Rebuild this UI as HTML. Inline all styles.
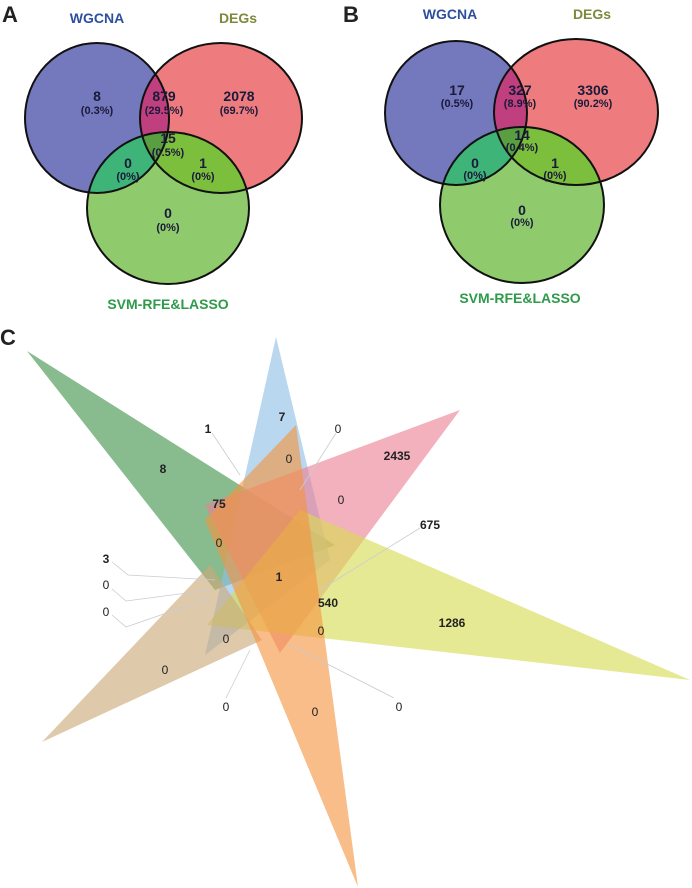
<!DOCTYPE html>
<html><head><meta charset="utf-8"><style>
html,body{margin:0;padding:0;background:#fff;}
svg{display:block;font-family:"Liberation Sans",sans-serif;}
</style></head><body>
<svg width="692" height="888" viewBox="0 0 692 888" xmlns="http://www.w3.org/2000/svg">
<defs>
<clipPath id="aB"><ellipse cx="97" cy="118" rx="72" ry="75"/></clipPath>
<clipPath id="aR"><ellipse cx="221" cy="118" rx="81" ry="75"/></clipPath>
<clipPath id="aG"><ellipse cx="168" cy="208" rx="81" ry="76"/></clipPath>
<clipPath id="bB"><ellipse cx="456" cy="113" rx="71" ry="72"/></clipPath>
<clipPath id="bR"><ellipse cx="576" cy="112" rx="82" ry="73"/></clipPath>
<clipPath id="bG"><ellipse cx="522" cy="205" rx="82" ry="78"/></clipPath>
</defs>
<!-- Panel A -->
<text x="2" y="22" font-size="22" font-weight="bold" fill="#222">A</text>
<text x="97" y="23" font-size="14" font-weight="bold" fill="#2e4fa0" text-anchor="middle">WGCNA</text>
<text x="238" y="23" font-size="14" font-weight="bold" fill="#7d8a3a" text-anchor="middle">DEGs</text>
<ellipse cx="97" cy="118" rx="72" ry="75" fill="#7478bd"/>
<ellipse cx="221" cy="118" rx="81" ry="75" fill="#ee7c7e"/>
<ellipse cx="97" cy="118" rx="72" ry="75" fill="#c0407f" clip-path="url(#aR)"/>
<ellipse cx="168" cy="208" rx="81" ry="76" fill="#8fcb6c"/>
<g clip-path="url(#aG)"><ellipse cx="97" cy="118" rx="72" ry="75" fill="#3eb478"/><ellipse cx="221" cy="118" rx="81" ry="75" fill="#7cbf3c"/>
<g clip-path="url(#aB)"><ellipse cx="221" cy="118" rx="81" ry="75" fill="#5a9e42"/></g></g>
<g fill="none" stroke="#111" stroke-width="2"><ellipse cx="97" cy="118" rx="72" ry="75"/><ellipse cx="221" cy="118" rx="81" ry="75"/><ellipse cx="168" cy="208" rx="81" ry="76"/></g>
<g font-weight="bold" text-anchor="middle" fill="#1a1a3a">
<text x="97" y="101" font-size="14">8</text><text x="97" y="114" font-size="11">(0.3%)</text>
<text x="164" y="101" font-size="14">879</text><text x="164" y="114" font-size="11">(29.5%)</text>
<text x="239" y="101" font-size="14">2078</text><text x="239" y="114" font-size="11">(69.7%)</text>
<text x="168" y="143" font-size="14">15</text><text x="168" y="156" font-size="11">(0.5%)</text>
<text x="128" y="168" font-size="14">0</text><text x="128" y="180" font-size="11">(0%)</text>
<text x="203" y="168" font-size="14">1</text><text x="203" y="180" font-size="11">(0%)</text>
<text x="168" y="218" font-size="14">0</text><text x="168" y="231" font-size="11">(0%)</text>
</g>
<text x="168" y="309" font-size="14" font-weight="bold" fill="#2e9a4a" text-anchor="middle">SVM-RFE&amp;LASSO</text>
<!-- Panel B -->
<text x="343" y="22" font-size="22" font-weight="bold" fill="#222">B</text>
<text x="450" y="19" font-size="14" font-weight="bold" fill="#2e4fa0" text-anchor="middle">WGCNA</text>
<text x="592" y="19" font-size="14" font-weight="bold" fill="#7d8a3a" text-anchor="middle">DEGs</text>
<ellipse cx="456" cy="113" rx="71" ry="72" fill="#7478bd"/>
<ellipse cx="576" cy="112" rx="82" ry="73" fill="#ee7c7e"/>
<ellipse cx="456" cy="113" rx="71" ry="72" fill="#c0407f" clip-path="url(#bR)"/>
<ellipse cx="522" cy="205" rx="82" ry="78" fill="#8fcb6c"/>
<g clip-path="url(#bG)"><ellipse cx="456" cy="113" rx="71" ry="72" fill="#3eb478"/><ellipse cx="576" cy="112" rx="82" ry="73" fill="#7cbf3c"/>
<g clip-path="url(#bB)"><ellipse cx="576" cy="112" rx="82" ry="73" fill="#5a9e42"/></g></g>
<g fill="none" stroke="#111" stroke-width="2"><ellipse cx="456" cy="113" rx="71" ry="72"/><ellipse cx="576" cy="112" rx="82" ry="73"/><ellipse cx="522" cy="205" rx="82" ry="78"/></g>
<g font-weight="bold" text-anchor="middle" fill="#1a1a3a">
<text x="457" y="95" font-size="14">17</text><text x="457" y="107" font-size="11">(0.5%)</text>
<text x="520" y="95" font-size="14">327</text><text x="520" y="107" font-size="11">(8.9%)</text>
<text x="593" y="95" font-size="14">3306</text><text x="593" y="107" font-size="11">(90.2%)</text>
<text x="522" y="140" font-size="14">14</text><text x="522" y="151" font-size="11">(0.4%)</text>
<text x="475" y="168" font-size="14">0</text><text x="475" y="179" font-size="11">(0%)</text>
<text x="555" y="168" font-size="14">1</text><text x="555" y="179" font-size="11">(0%)</text>
<text x="522" y="215" font-size="14">0</text><text x="522" y="226" font-size="11">(0%)</text>
</g>
<text x="520" y="303" font-size="14" font-weight="bold" fill="#2e9a4a" text-anchor="middle">SVM-RFE&amp;LASSO</text>
<!-- Panel C -->
<text x="0" y="345" font-size="22" font-weight="bold" fill="#222">C</text>
<g fill-opacity="0.62">
<polygon points="27,351 335,545 215,590" fill="#3f9148"/>
<polygon points="276,337 205,655 330,560" fill="#8fbfe6"/>
<polygon points="460,410 205,505 280,653" fill="#ec7f94"/>
<polygon points="690,680 300,510 207,625" fill="#d6dc50"/>
<polygon points="42,742 210,565 262,640" fill="#cca878"/>
<polygon points="358,887 205,520 296,425" fill="#f39540"/>
</g>
<g stroke="#c8ccd4" stroke-width="0.8" fill="none">
<polyline points="212,433 240,475"/>
<polyline points="336,433 300,490"/>
<polyline points="420,528 320,590"/>
<polyline points="112,562 128,575 215,580"/>
<polyline points="112,589 126,601 210,590"/>
<polyline points="112,615 126,627 210,598"/>
<polyline points="226,698 250,650"/>
<polyline points="394,698 290,645"/>
</g>
<g font-size="12" fill="#222" text-anchor="middle">
<g font-weight="bold">
<text x="282" y="421">7</text><text x="208" y="433">1</text><text x="163" y="473">8</text>
<text x="397" y="460">2435</text><text x="219" y="508">75</text><text x="430" y="529">675</text>
<text x="106" y="563">3</text><text x="279" y="581">1</text><text x="328" y="607">540</text>
<text x="452" y="627">1286</text>
</g>
<text x="338" y="433">0</text><text x="289" y="463">0</text><text x="341" y="504">0</text>
<text x="219" y="547">0</text><text x="106" y="589">0</text><text x="106" y="616">0</text>
<text x="321" y="635">0</text><text x="226" y="643">0</text><text x="165" y="674">0</text>
<text x="226" y="711">0</text><text x="315" y="716">0</text><text x="399" y="711">0</text>
</g>
</svg>
</body></html>
